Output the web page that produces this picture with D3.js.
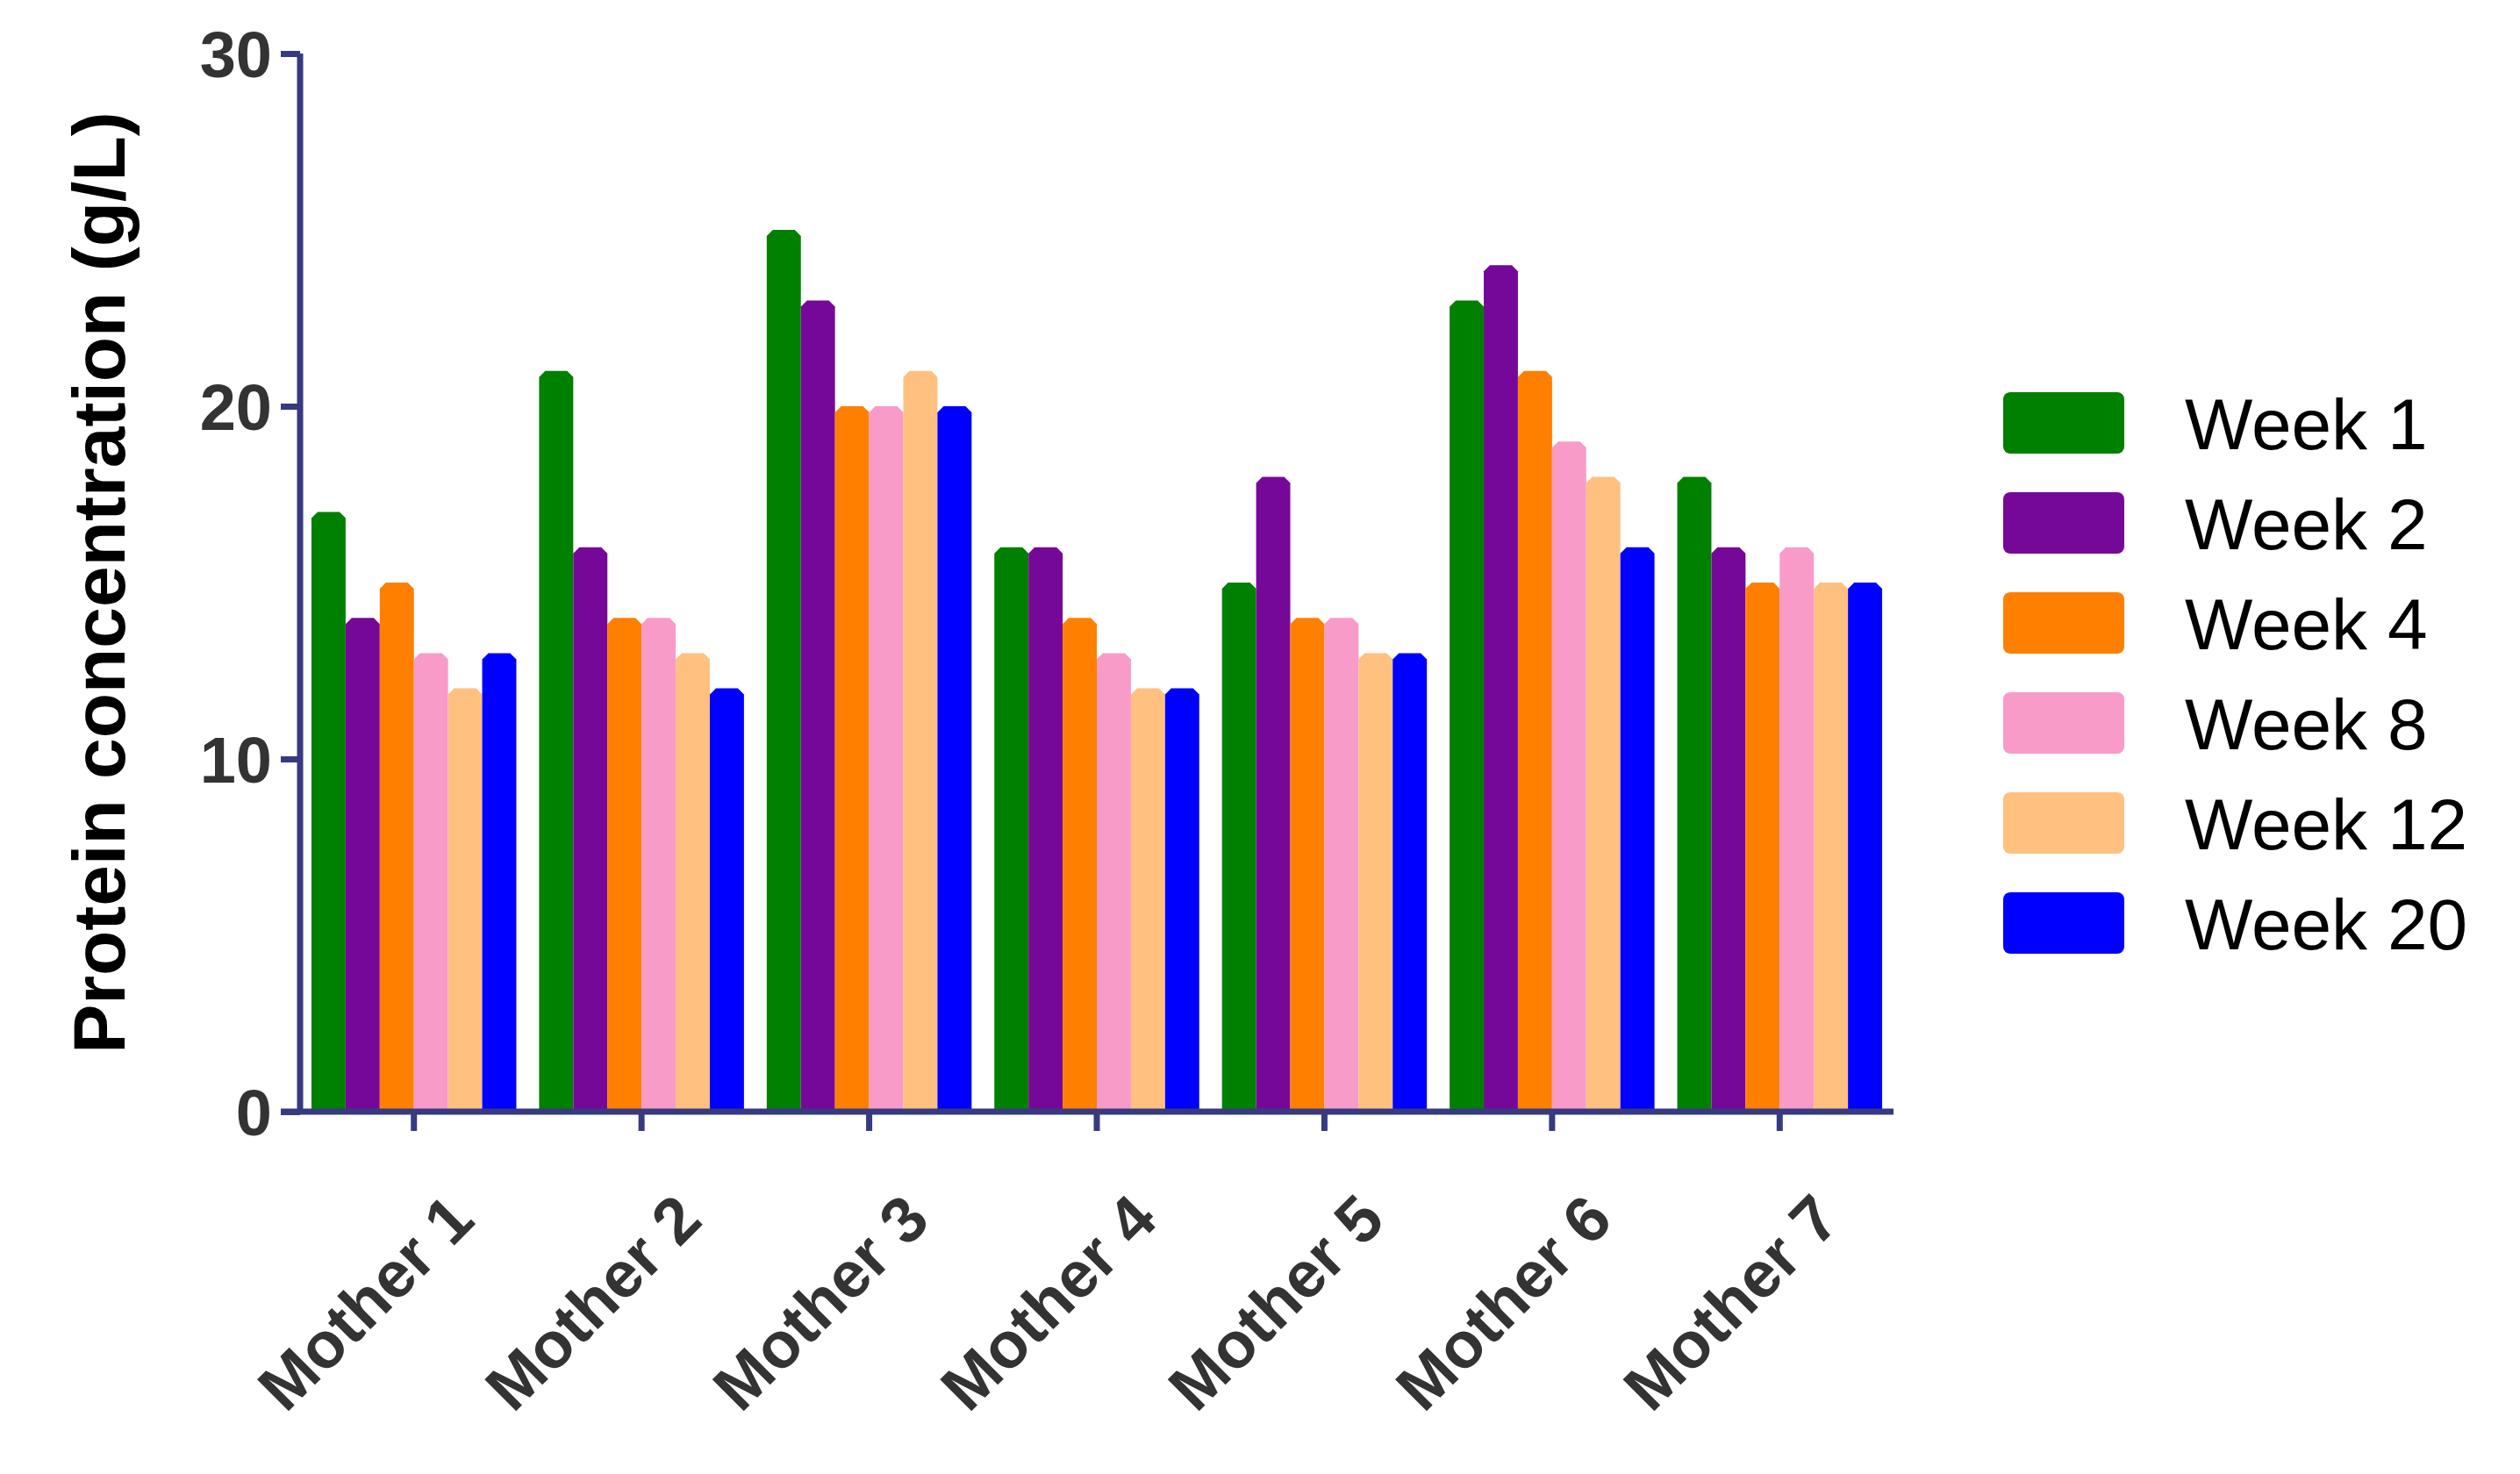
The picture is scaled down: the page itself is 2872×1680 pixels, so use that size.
<!DOCTYPE html>
<html>
<head>
<meta charset="utf-8">
<script src="https://d3js.org/d3.v7.min.js"></script>
<style>
  body { margin: 0; background: #fff; }
  text { font-family: "Liberation Sans", Arial, sans-serif; }
</style>
</head>
<body>
<svg width="2872" height="1680"></svg>
<script>
const mothers = ["Mother 1", "Mother 2", "Mother 3", "Mother 4", "Mother 5", "Mother 6", "Mother 7"];
const weeks = ["Week 1", "Week 2", "Week 4", "Week 8", "Week 12", "Week 20"];
const colors = ["#008000", "#760899", "#ff7f00", "#f99bc9", "#ffc080", "#0000ff"];
// rows = mothers, columns = weeks
const values = [
  [17, 14, 15, 13, 12, 13],
  [21, 16, 14, 14, 13, 12],
  [25, 23, 20, 20, 21, 20],
  [16, 16, 14, 13, 12, 12],
  [15, 18, 14, 14, 13, 13],
  [23, 24, 21, 19, 18, 16],
  [18, 16, 15, 16, 15, 15]
];
const yTicks = [0, 10, 20, 30];

const svg = d3.select("svg");
const axisColor = "#363a80";

const x0 = d3.scaleBand().domain(mothers).range([342, 2158]).paddingInner(0.1).paddingOuter(0.05);
const x1 = d3.scaleBand().domain(weeks).range([0, x0.bandwidth()]);
const y = d3.scaleLinear().domain([0, 30]).range([1267, 61]);

// bars with chamfered tops
const bar = (x, w, v) => {
  const top = y(v), b = y(0), c = 7;
  return `M${x},${b}V${top + c}L${x + c},${top}H${x + w - c}L${x + w},${top + c}V${b}Z`;
};
mothers.forEach((m, i) => {
  svg.append("g").selectAll("path").data(values[i]).enter().append("path")
    .attr("d", (v, j) => bar(x0(m) + x1(weeks[j]), x1.bandwidth(), v))
    .attr("fill", (v, j) => colors[j]);
});

// y axis
const yAxis = svg.append("g").attr("transform", "translate(342,0)")
  .call(d3.axisLeft(y).tickValues(yTicks).tickSize(22).tickPadding(10));
yAxis.select(".domain").attr("stroke", axisColor).attr("stroke-width", 7).attr("d", `M0,${y(30)}V${y(0)}`);
yAxis.selectAll(".tick line").attr("stroke", axisColor).attr("stroke-width", 7);
yAxis.selectAll(".tick text").attr("fill", "#333").style("font-size", "74px").style("font-weight", "bold")
  .attr("dy", "0.36em");

// x axis
const xAxis = svg.append("g").attr("transform", `translate(0,${y(0)})`)
  .call(d3.axisBottom(x0).tickSize(22).tickPadding(30));
xAxis.select(".domain").attr("stroke", axisColor).attr("stroke-width", 7).attr("d", "M320,0H2158");
xAxis.selectAll(".tick line").attr("stroke", axisColor).attr("stroke-width", 7);
xAxis.selectAll(".tick text").attr("fill", "#333").style("font-size", "74px").style("font-weight", "bold")
  .attr("text-anchor", "end").attr("dy", "0")
  .attr("transform", "translate(35,90) rotate(-45)");

// y title
svg.append("text").attr("transform", "translate(142,664) rotate(-90)")
  .attr("text-anchor", "middle").style("font-size", "84px").style("font-weight", "bold")
  .text("Protein concentration (g/L)");

// legend
const lg = svg.append("g").selectAll("g").data(weeks).enter().append("g")
  .attr("transform", (d, i) => `translate(2283,${482 + i * 114})`);
lg.append("rect").attr("x", 0).attr("y", -35).attr("width", 138).attr("height", 70).attr("rx", 8)
  .attr("fill", (d, i) => colors[i]);
lg.append("text").attr("x", 207).attr("y", 0).attr("dy", "0.36em").style("font-size", "82px")
  .text(d => d);
</script>
</body>
</html>
